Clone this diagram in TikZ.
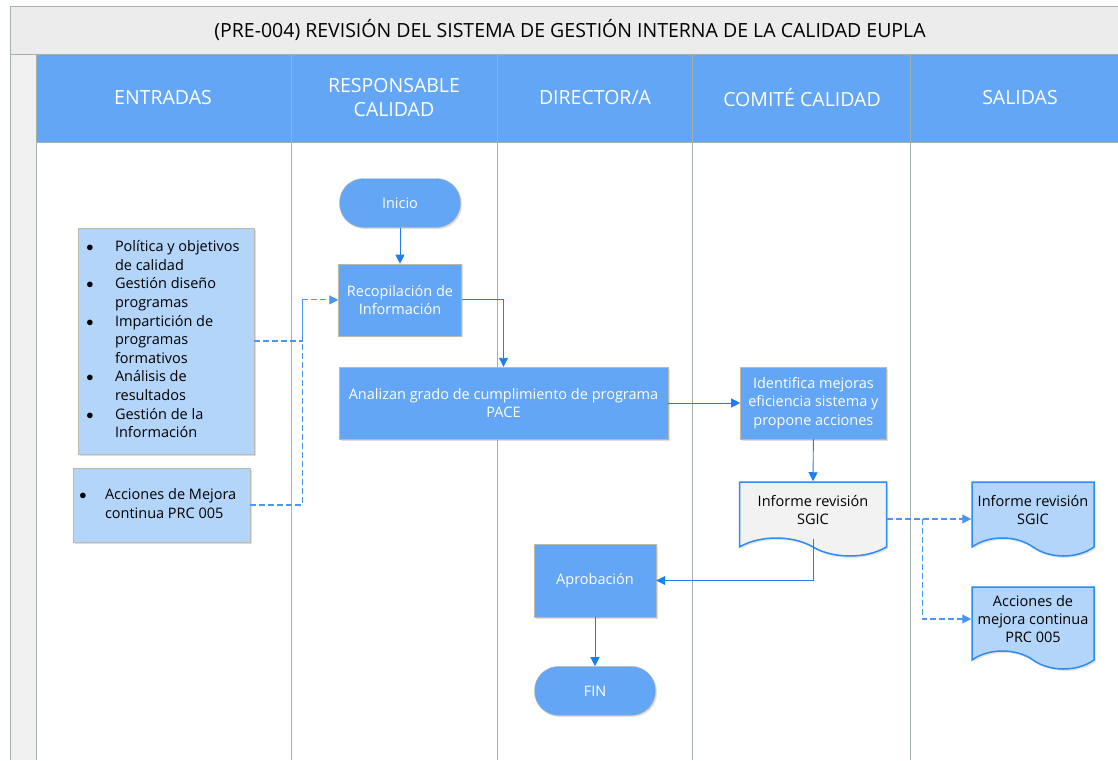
\documentclass[tikz,border=0pt]{standalone}
\usepackage{fontspec}
\setmainfont{Open Sans}
\usepackage{xcolor}
\usepackage{array}
\usepackage{tikz}
\usetikzlibrary{positioning}
\usetikzlibrary{arrows.meta}
\usetikzlibrary{shapes.symbols}
\usetikzlibrary{shadows}
\definecolor{headblue}{HTML}{63A6F5}
\definecolor{lightblue}{HTML}{B3D5FA}
\definecolor{titlegray}{HTML}{ECECEC}
\definecolor{stripgray}{HTML}{F0F0F0}
\definecolor{lanegray}{HTML}{A3B0AC}
\definecolor{boxgray}{HTML}{B9B9AE}
\definecolor{flowblue}{HTML}{1E7FEB}
\definecolor{dashblue}{HTML}{4A96F0}
\definecolor{docblue}{HTML}{2E8BF0}
\definecolor{docgray}{HTML}{F2F2F2}
\newcommand{\blt}{$\bullet$}

\begin{document}
\begin{tikzpicture}[x=1pt,y=-1pt,
titlenode/.style={font=\fontsize{19.5}{23}\selectfont, text=black},
headnode/.style={font=\fontsize{19.5}{24}\selectfont, text=white, align=center},
processnode/.style={rectangle, draw=boxgray, fill=headblue, text=white, align=center, font=\fontsize{14.5}{18.4}\selectfont, drop shadow={shadow xshift=1.5pt, shadow yshift=-1.5pt, opacity=0.25}},
endnode/.style={processnode, rounded corners=24pt, minimum width=121pt, minimum height=49pt},
inputnode/.style={rectangle, draw=boxgray, fill=lightblue, text=black, font=\fontsize{14.5}{18.6}\selectfont, drop shadow={shadow xshift=1.5pt, shadow yshift=-1.5pt, opacity=0.25}},
docnode/.style={tape, tape bend top=none, tape bend bottom=out and in, tape bend height=18pt, draw=docblue, line width=1.5pt, text=black, align=center, font=\fontsize{14.5}{18.4}\selectfont, minimum width=147pt, minimum height=74pt, drop shadow={shadow xshift=1.5pt, shadow yshift=-2pt, opacity=0.2}},
flow/.style={draw=flowblue, line width=0.9pt, -{Triangle[length=9pt, width=9pt]}},
dashflow/.style={draw=dashblue, line width=1.1pt, dash pattern=on 6pt off 3pt},
]
\useasboundingbox (0,0) rectangle (1118,760);
%Lanes
\fill[white] (0,0) rectangle (1118,760);
\fill[titlegray] (10,6) rectangle (1118,54);
\fill[stripgray] (10,54) rectangle (36,760);
\fill[headblue] (36,54) rectangle (1118,142);
\draw[lanegray] (10,760) -- (10,6) -- (1118,6);
\draw[lanegray] (10,54) -- (1118,54);
\draw[lanegray] (36,142) -- (1118,142);
\foreach \x in {36,291,497,692,910}
  \draw[lanegray] (\x,54) -- (\x,760);

%Nodes
\node[titlenode]   (title)    at (570,30)   {(PRE-004) REVISIÓN DEL SISTEMA DE GESTIÓN INTERNA DE LA CALIDAD EUPLA};
\node[headnode]    (entradas) at (163,98)   {ENTRADAS};
\node[headnode]    (respcal)  at (394,98)   {RESPONSABLE\\CALIDAD};
\node[headnode]    (director) at (595,98)   {DIRECTOR/A};
\node[headnode]    (comite)   at (802,98)   {COMITÉ CALIDAD};
\node[headnode]    (salidas)  at (1020,98)  {SALIDAS};

\node[endnode]     (inicio)   at (400,203)  {Inicio};
\node[processnode, minimum width=123pt, minimum height=72pt]  (recop)  [below=36pt of inicio]  {Recopilación de\\Información};
\node[processnode, minimum width=329pt, minimum height=72pt]  (analiz)  at (503.5,403)  {Analizan grado de cumplimiento de programa\\PACE};
\node[processnode, minimum width=146pt, minimum height=72pt]  (ident)  [right=72pt of analiz]  {Identifica mejoras\\eficiencia sistema y\\propone acciones};
\node[docnode, fill=docgray]  (informe)  at (813,510)  {Informe revisión\\SGIC};
\node[processnode, minimum width=122pt, minimum height=73pt]  (aprob)  at (595,580.5)  {Aprobación};
\node[endnode]     (fin)      [below=49pt of aprob]  {FIN};

\node[inputnode, minimum width=176pt, minimum height=226pt]  (entrada1)  at (166,341)  {%
\begin{tabular}{@{}>{\centering}p{12pt}@{\hspace{19pt}}>{\raggedright\arraybackslash}p{133pt}@{}}
\blt & Política y objetivos de calidad\\
\blt & Gestión diseño programas\\
\blt & Impartición de programas formativos\\
\blt & Análisis de resultados\\
\blt & Gestión de la Información
\end{tabular}};
\node[inputnode, minimum width=177pt, minimum height=74pt]  (entrada2)  at (161.5,505)  {%
\begin{tabular}{@{}>{\centering}p{12pt}@{\hspace{16pt}}>{\raggedright\arraybackslash}p{141pt}@{}}
\blt & Acciones de Mejora continua PRC 005
\end{tabular}};

\node[docnode, fill=lightblue, minimum width=122pt]  (salida1)  at (1033,510)  {Informe revisión\\SGIC};
\node[docnode, fill=lightblue, minimum width=122pt, minimum height=82pt]  (salida2)  at (1033,619)  {Acciones de\\mejora continua\\PRC 005};

\coordinate[left=36pt of recop.west] (joinIn);
\coordinate[below=9pt of informe.east] (informeOut);
\coordinate[below=9pt of salida1.west] (salidaIn);
\coordinate[right=35pt of informeOut] (joinOut);

%Lines
\draw[flow] (inicio.south) -- (recop.north);
\draw[flow] (recop.east) -| (analiz.north);
\draw[flow] (analiz.east) -- (ident.west);
\draw[flow] (ident.south) -- (informe.north);
\draw[flow] (informe.south) |- (aprob.east);
\draw[flow] (aprob.south) -- (fin.north);
\draw[dashflow] (entrada1.east) -| (joinIn);
\draw[dashflow] (entrada2.east) -| (joinIn);
\draw[dashflow, -{Triangle[length=9pt, width=9pt]}] (joinIn) -- (recop.west);
\draw[dashflow, -{Triangle[length=9pt, width=9pt]}] (informeOut) -- (salidaIn);
\draw[dashflow, -{Triangle[length=9pt, width=9pt]}] (joinOut) |- (salida2.west);
\end{tikzpicture}
\end{document}
